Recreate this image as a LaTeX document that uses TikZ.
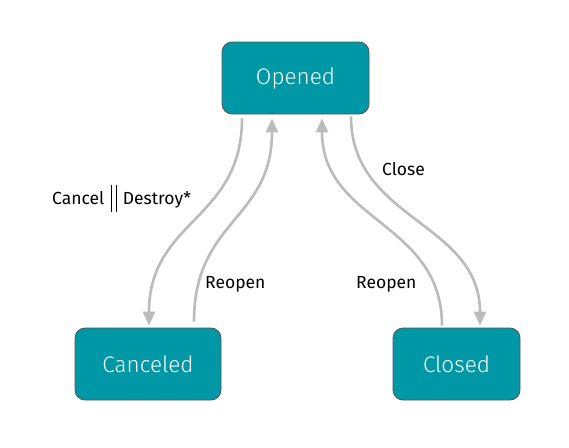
\documentclass[tikz,border=0pt]{standalone}
\usepackage{fontspec}
\setmainfont{Fira Sans}
\newfontfamily\lightfont{Fira Sans Light}
\usetikzlibrary{arrows.meta,calc}
\definecolor{teal}{HTML}{0098A6}
\definecolor{edgegray}{HTML}{BBBBBB}
\definecolor{bordergray}{HTML}{555555}
\tikzset{
  state/.style={draw=bordergray, line width=0.8pt, fill=teal, rounded corners=10pt, text=white, font=\fontsize{22.5}{26}\selectfont\lightfont, inner sep=0pt},
  trans/.style={draw=edgegray, line width=2.6pt, -{Triangle[width=12pt,length=14pt]}},
  lbl/.style={font=\fontsize{17.5}{20}\selectfont, text=black, inner sep=0pt}
}
\begin{document}
\begin{tikzpicture}[x=1pt,y=-1pt]
\useasboundingbox (0,0) rectangle (569,447);
\node[state, minimum width=147pt, minimum height=72pt] (opened) at (295.5,78) {Opened};
\node[state, minimum width=146pt, minimum height=72pt] (canceled) at (148,364) {Canceled};
\node[state, minimum width=127pt, minimum height=72pt] (closed) at (456.5,364) {Closed};
% Opened -> Canceled
\coordinate (a1) at ([xshift=-53.5pt,yshift=-4pt]opened.south);
\coordinate (a2) at ([xshift=1pt,yshift=2pt]canceled.north);
\draw[trans] (a1) .. controls ($(a1)+(0,102)$) and ($(a2)+(0,-106)$) .. (a2);
% Canceled -> Opened
\coordinate (b1) at ([xshift=46pt,yshift=6pt]canceled.north);
\coordinate (b2) at ([xshift=-23.5pt,yshift=-4pt]opened.south);
\draw[trans] (b1) .. controls ($(b1)+(0,-102)$) and ($(b2)+(0,102)$) .. (b2);
% Closed -> Opened
\coordinate (c1) at ([xshift=-14.5pt,yshift=2pt]closed.north);
\coordinate (c2) at ([xshift=26.5pt,yshift=-4pt]opened.south);
\draw[trans] (c1) .. controls ($(c1)+(0,-104)$) and ($(c2)+(0,104)$) .. (c2);
% Opened -> Closed
\coordinate (d1) at ([xshift=55.5pt,yshift=-2pt]opened.south);
\coordinate (d2) at ([xshift=23.5pt,yshift=2pt]closed.north);
\draw[trans] (d1) .. controls ($(d1)+(0,104)$) and ($(d2)+(0,-104)$) .. (d2);
% labels
\node[lbl, anchor=west] (l1) at (52,198) {Cancel\hspace{7pt}\raisebox{-7pt}{\rule{0.8pt}{27pt}\hspace{4pt}\rule{0.8pt}{27pt}}\hspace{6pt}Destroy*};
\node[lbl, anchor=west] (l2) at (205,284) {Reopen};
\node[lbl, anchor=west] (l3) at (356,284) {Reopen};
\node[lbl, anchor=west] (l4) at (382,169) {Close};
\end{tikzpicture}
\end{document}
